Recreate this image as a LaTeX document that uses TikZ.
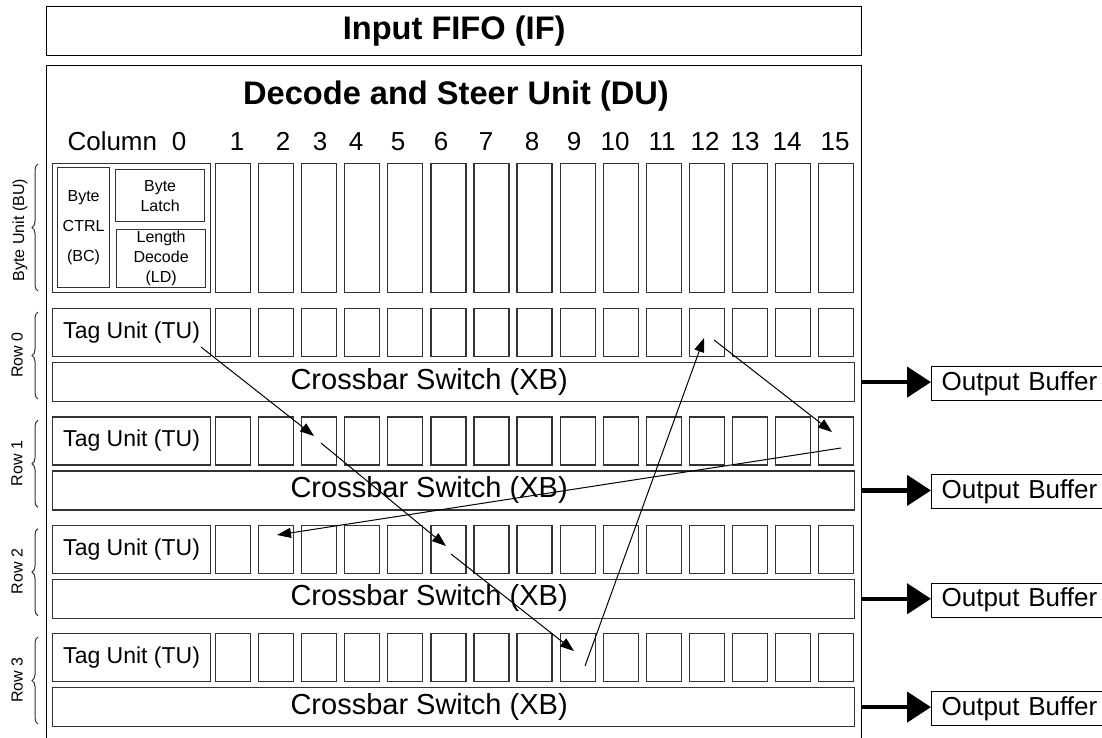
\documentclass[tikz,border=0pt]{standalone}
\usepackage{fontspec}
\setmainfont{Liberation Sans}
\usetikzlibrary{arrows.meta,decorations.pathreplacing}

\tikzset{
  unit/.style={draw=black!80, line width=1.2pt, inner sep=0pt},
  cellbox/.style={unit, minimum width=35pt, anchor=north west},
  outline/.style={draw=black, line width=1.3pt, inner sep=0pt, anchor=north west},
  titlefont/.style={font=\fontsize{32.6}{33}\selectfont\bfseries},
  colfont/.style={font=\fontsize{26}{26}\selectfont, anchor=base},
  tagfont/.style={font=\fontsize{23}{23}\selectfont},
  xbfont/.style={font=\fontsize{29}{29}\selectfont},
  smallfont/.style={font=\fontsize{16}{20}\selectfont, align=center},
  rowfont/.style={font=\fontsize{16}{16}\selectfont, rotate=90},
  obuf/.style={draw=black, line width=1.2pt, anchor=west, minimum height=34pt,
    text width=170pt, inner xsep=10pt, align=left, font=\fontsize{26}{26}\selectfont},
  fat/.style={-{Triangle[length=24pt,width=30pt]}, line width=4.5pt},
  link/.style={-{Triangle[length=14pt,width=10pt]}, line width=1pt},
  bracket/.style={decorate, decoration={brace, amplitude=6pt}, draw=black!80, line width=1pt}
}

\begin{document}
\begin{tikzpicture}[x=1pt, y=-1pt]
  \useasboundingbox (0,0) rectangle (1102,738);

  % Input FIFO and DU outline
  \node[outline, minimum width=815pt, minimum height=49pt, titlefont] (fifo) at (46,6) {Input FIFO (IF)};
  \node[outline, minimum width=815pt, minimum height=720pt] (du) at (46,65) {};
  \node[titlefont] (dutitle) at (456,96) {Decode and Steer Unit (DU)};

  % Column numbers
  \node[colfont, anchor=base west] (coltext) at (64,151) {Column};
  \foreach \k/\x in {0/179, 1/237, 2/283, 3/320, 4/356, 5/398, 6/441, 7/486,
                     8/532, 9/574, 10/615, 11/662, 12/705, 13/745, 14/787, 15/835}
    \node[colfont] (col\k) at (\x,151) {\k};

  % Byte unit
  \node[unit, anchor=north west, minimum width=158pt, minimum height=129pt] (bu0) at (52,163) {};
  \node[unit, anchor=north west, minimum width=52pt, minimum height=120pt, smallfont,
        font=\fontsize{16}{30}\selectfont] (bc) at (57,167) {Byte\\CTRL\\(BC)};
  \node[unit, anchor=north west, minimum width=89pt, minimum height=52pt, smallfont] (latch) at (115,169) {Byte\\Latch};
  \node[unit, anchor=north west, minimum width=89pt, minimum height=58pt, smallfont] (ld) at (116,229) {Length\\Decode\\(LD)};
  \foreach \k in {1,...,15}
    \node[cellbox, minimum height=129pt] (bu\k) at ({215+43.07*(\k-1)},163) {};
  \draw[bracket] (38,291) -- (38,164);
  \node[rowfont] (bulbl) at (20,230) {Byte Unit (BU)};

  % Rows of tag units and crossbars
  \foreach \r in {0,...,3} {
    \pgfmathsetmacro\rowtop{308+108.33*\r}
    \node[unit, anchor=north west, minimum width=158pt, minimum height=48pt, tagfont] (tu\r) at (52,\rowtop) {Tag Unit (TU)};
    \foreach \k in {1,...,15}
      \node[cellbox, minimum height=48pt] (c\r-\k) at ({215+43.07*(\k-1)},\rowtop) {};
    \node[unit, anchor=north west, minimum width=802pt, minimum height=39pt] (xb\r) at (52,\rowtop+54) {};
    \node[xbfont, anchor=west] (xbt\r) at (287,\rowtop+73.5) {Crossbar Switch (XB)};
    \draw[bracket] (38,\rowtop+91) -- (38,\rowtop+4);
    \node[rowfont] (rowlbl\r) at (17,\rowtop+47) {Row \r};
    \node[obuf] (ob\r) at (931,\rowtop+75.5) {Output Buffer};
    \draw[fat] (du.east |- xb\r) -- (ob\r.west |- xb\r);
  }

  % Routing path
  \coordinate (p0) at (201,347);
  \coordinate (p1) at (314,436);
  \coordinate (p1s) at (321,443);
  \coordinate (p2) at (446,546);
  \coordinate (p2s) at (451,554);
  \coordinate (p3) at (574,651);
  \coordinate (q0) at (585,666);
  \coordinate (q1) at (704,338);
  \coordinate (q1s) at (714,340);
  \coordinate (q2) at (832,432);
  \coordinate (q2s) at (841,448);
  \coordinate (q3) at (277,535);
  \draw[link] (p0) -- (p1);
  \draw[link] (p1s) -- (p2);
  \draw[link] (p2s) -- (p3);
  \draw[link] (q0) -- (q1);
  \draw[link] (q1s) -- (q2);
  \draw[link] (q2s) -- (q3);
\end{tikzpicture}
\end{document}
